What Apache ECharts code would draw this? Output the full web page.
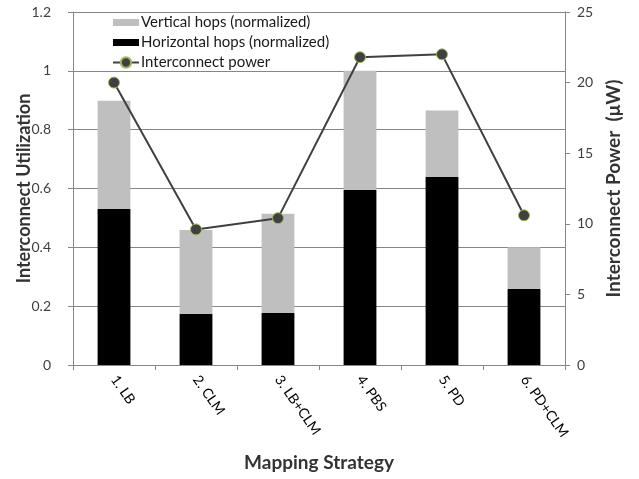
<!DOCTYPE html>
<html>
<head>
<meta charset="utf-8">
<script src="https://cdn.jsdelivr.net/npm/echarts@6/dist/echarts.min.js"></script>
<style>
html,body{margin:0;padding:0;background:#fff;}
#chart{width:639px;height:479px;}
</style>
</head>
<body>
<div id="chart"></div>
<script>
var categories = ['1. LB', '2. CLM', '3. LB+CLM', '4. PBS', '5. PD', '6. PD+CLM'];
var horizontalHops = [0.53, 0.173, 0.177, 0.595, 0.64, 0.258];
var verticalHops = [0.368, 0.286, 0.337, 0.405, 0.225, 0.142];
var interconnectPower = [20.0, 9.6, 10.4, 21.8, 22.0, 10.6];

var FONT = 'Lato, "Open Sans", sans-serif';
var chart = echarts.init(document.getElementById('chart'), null, {renderer: 'canvas'});
var axisGray = '#868686';
chart.setOption({
  animation: false,
  backgroundColor: '#ffffff',
  textStyle: {fontFamily: FONT},
  grid: {left: 73, right: 74, top: 12, bottom: 114, containLabel: false},
  legend: {
    left: 110, top: 14, orient: 'vertical', itemGap: 5,
    itemWidth: 26, itemHeight: 13,
    backgroundColor: '#ffffff',
    padding: [1, 4, 1, 2],
    textStyle: {fontFamily: FONT, fontSize: 15, lineHeight: 15, color: '#1a1a1a', padding: [0, 0, 0, -3]},
    data: [
      {name: 'Vertical hops (normalized)', icon: 'path://M0,3 L26,3 L26,10 L0,10 Z'},
      {name: 'Horizontal hops (normalized)', icon: 'path://M0,3 L26,3 L26,10 L0,10 Z'},
      {name: 'Interconnect power'}
    ]
  },
  xAxis: {
    type: 'category', data: categories,
    axisLine: {lineStyle: {color: axisGray, width: 1}},
    axisTick: {show: true, length: 5, lineStyle: {color: axisGray}},
    axisLabel: {rotate: -55, color: '#000000', fontSize: 14, fontFamily: FONT, margin: 12},
    name: 'Mapping Strategy', nameLocation: 'middle', nameGap: 88, nameMoveOverlap: false,
    nameTextStyle: {fontFamily: FONT, fontSize: 19, fontWeight: 'bold', color: '#333333'}
  },
  yAxis: [
    {
      type: 'value', min: 0, max: 1.2, interval: 0.2,
      axisLine: {show: true, lineStyle: {color: axisGray}},
      axisTick: {show: true, length: 5, lineStyle: {color: axisGray}},
      splitLine: {show: true, lineStyle: {color: axisGray, width: 1}},
      axisLabel: {color: '#404040', fontSize: 14, fontFamily: FONT, margin: 22},
      name: 'Interconnect Utilization', nameLocation: 'middle', nameGap: 40, nameMoveOverlap: false,
      nameTextStyle: {fontFamily: FONT, fontSize: 18, fontWeight: 'bold', color: '#333333'}
    },
    {
      type: 'value', min: 0, max: 25, interval: 5, position: 'right',
      axisLine: {show: true, lineStyle: {color: axisGray}},
      axisTick: {show: true, length: 5, lineStyle: {color: axisGray}},
      splitLine: {show: false},
      axisLabel: {color: '#404040', fontSize: 14, fontFamily: FONT, margin: 12},
      name: 'Interconnect Power  (\u03bcW)', nameLocation: 'middle', nameGap: 39, nameRotate: 90, nameMoveOverlap: false,
      nameTextStyle: {fontFamily: FONT, fontSize: 19, fontWeight: 'bold', color: '#333333'}
    }
  ],
  series: [
    {
      name: 'Horizontal hops (normalized)', type: 'bar', stack: 'hops',
      data: horizontalHops, barCategoryGap: '60%',
      itemStyle: {color: '#000000'}
    },
    {
      name: 'Vertical hops (normalized)', type: 'bar', stack: 'hops',
      data: verticalHops,
      itemStyle: {color: '#bfbfbf'}
    },
    {
      name: 'Interconnect power', type: 'line', yAxisIndex: 1,
      data: interconnectPower,
      symbol: 'circle', symbolSize: 11,
      lineStyle: {color: '#404040', width: 2},
      itemStyle: {color: '#404040', borderColor: '#9bbb59', borderWidth: 1}
    }
  ]
});
</script>
</body>
</html>
